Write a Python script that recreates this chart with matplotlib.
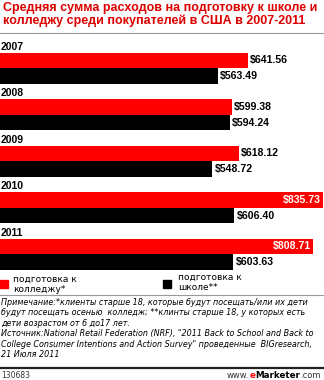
import numpy as np
import matplotlib.pyplot as plt

# Data
years = ["2007", "2008", "2009", "2010", "2011"]
college = [641.56, 599.38, 618.12, 835.73, 808.71]
school = [563.49, 594.24, 548.72, 606.40, 603.63]
series_names = ["подготовка к\nколледжу*", "подготовка к\nшколе**"]

title = ("Средняя сумма расходов на подготовку к школе и\n"
         "колледжу среди покупателей в США в 2007-2011")
note = ("Примечание:*клиенты старше 18, которые будут посещать/или их дети\n"
        "будут посещать осенью  колледж; **клинты старше 18, у которых есть\n"
        "дети возрастом от 6 до17 лет.\n"
        "Источник:National Retail Federation (NRF), \"2011 Back to School and Back to\n"
        "College Consumer Intentions and Action Survey\" проведенные  BIGresearch,\n"
        "21 Июля 2011")

RED = "#ff0000"
W, H = 324, 380
LAB = "Liberation Sans"

fig = plt.figure(figsize=(W / 100, H / 100), dpi=100)


def px(x, y):
    # pixel (from top-left) -> figure fraction
    return x / W, 1 - y / H


# title
fig.text(*px(3, 2), title, color="#dd0000", fontsize=9.0, fontweight="bold",
         family=LAB, ha="left", va="top", linespacing=1.05)
fig.add_artist(plt.Line2D([0, 1], [1 - 33 / H] * 2, color="#999999", lw=0.8))

# bars
top, pitch = 40, 46.5
ax = fig.add_axes([0, 1 - (top + pitch * len(years)) / H, 1, pitch * len(years) / H])
ax.set_xlim(0, W / 0.3866)
ax.set_ylim(len(years), 0)
ax.axis("off")

idx = np.arange(len(years))
bh = 0.335
ax.barh(idx + 0.44, college, height=bh, color=RED, edgecolor="none")
ax.barh(idx + 0.775, school, height=bh, color="black", edgecolor="none")

xmax = ax.get_xlim()[1]
for i, yr in enumerate(years):
    ax.text(1, i + 0.14, yr, fontsize=7.5, fontweight="bold", family=LAB,
            va="center", ha="left")
    for v, yo in ((college[i], 0.44), (school[i], 0.775)):
        lab = f"${v:.2f}"
        if v > xmax * 0.85:
            ax.text(v - 5, i + yo, lab, fontsize=7.6, fontweight="bold", family=LAB,
                    color="white", va="center", ha="right")
        else:
            ax.text(v + 6, i + yo, lab, fontsize=7.6, fontweight="bold", family=LAB,
                    color="black", va="center", ha="left")

# legend
fig.patches.append(plt.Rectangle(px(0, 288), 8 / W, 8 / H, color=RED,
                                 transform=fig.transFigure))
fig.text(*px(13, 275), series_names[0], fontsize=6.5, va="top", ha="left",
         linespacing=1.15)
fig.patches.append(plt.Rectangle(px(163, 288), 8 / W, 8 / H, color="black",
                                 transform=fig.transFigure))
fig.text(*px(178, 273), series_names[1], fontsize=6.5, va="top", ha="left",
         linespacing=1.15)
fig.add_artist(plt.Line2D([0, 1], [1 - 295 / H] * 2, color="#999999", lw=0.8))

# note
fig.text(*px(1, 298), note, fontsize=5.75, style="italic", va="top", ha="left",
         linespacing=1.2)

# footer
fig.add_artist(plt.Line2D([0, 1], [1 - 368 / H] * 2, color="#222222", lw=1.6))
fig.text(*px(1, 376), "130683", fontsize=5.5, color="#333333", va="center")
t1 = fig.text(*px(227, 376), "www.", fontsize=6, color="#333333", va="center")
a2 = fig.add_artist(plt.Annotation("e", xy=(1, 0), xycoords=t1, va="bottom",
                                   fontsize=6.3, color=RED, fontweight="bold"))
a3 = fig.add_artist(plt.Annotation("Marketer", xy=(1, 0), xycoords=a2, va="bottom",
                                   fontsize=6.3, color="black", fontweight="bold"))
fig.add_artist(plt.Annotation(".com", xy=(1, 0), xycoords=a3, va="bottom",
                              fontsize=6, color="#333333"))

fig.savefig("out.png", dpi=100)
